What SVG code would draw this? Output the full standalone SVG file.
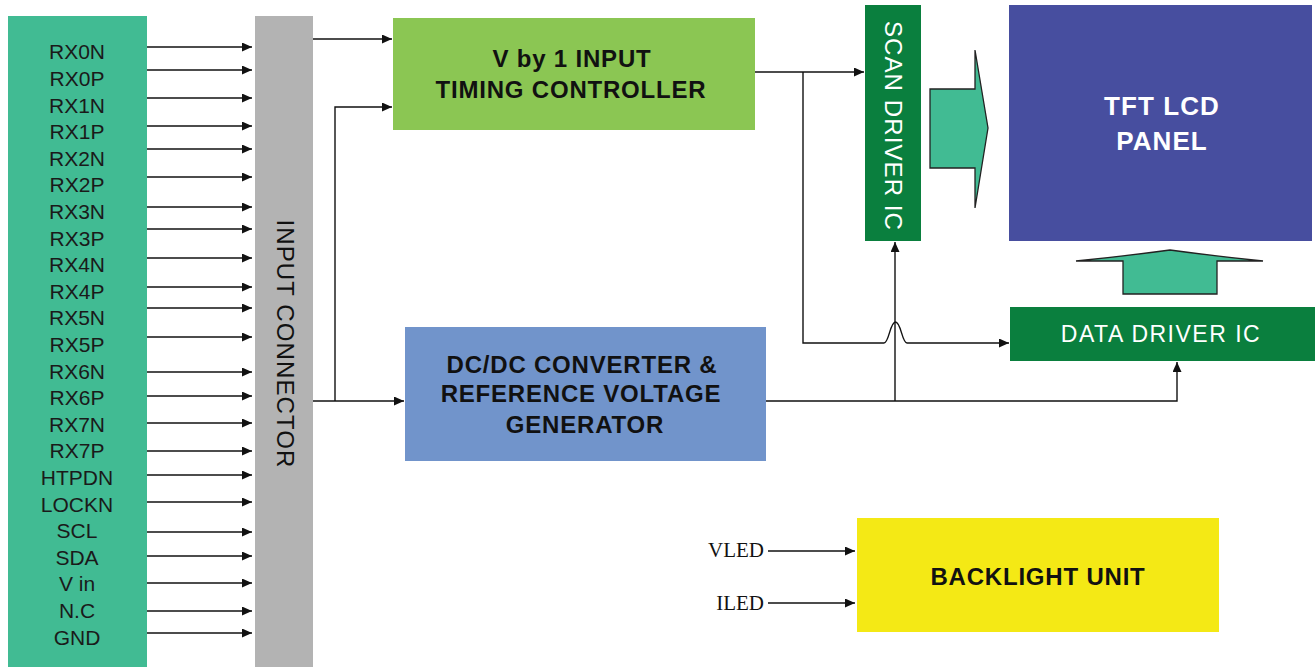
<svg xmlns="http://www.w3.org/2000/svg" width="1316" height="667" viewBox="0 0 1316 667">
<defs>
<marker id="ah" markerUnits="userSpaceOnUse" markerWidth="11" markerHeight="10" refX="10" refY="4.5" orient="auto">
<path d="M0,0 L10,4.5 L0,9 Z" fill="#111"/>
</marker>
<style>
.sig{font-family:"Liberation Sans",Arial,sans-serif;font-size:21px;fill:#1a1a1a;text-anchor:middle}
.lbl{font-family:"Liberation Sans",Arial,sans-serif;font-size:24px;fill:#111;text-anchor:middle;letter-spacing:1.1px}
.bld{font-weight:bold;letter-spacing:0.8px}
.wht{fill:#fff}
.ser{font-family:"Liberation Serif","Times New Roman",serif;font-size:21px;fill:#111;text-anchor:end}
.ln{fill:none;stroke:#111;stroke-width:1.4}
.arr{marker-end:url(#ah)}
.big{fill:#41BB93;stroke:#222;stroke-width:1.3;stroke-linejoin:miter}
</style>
</defs>
<rect width="1316" height="667" fill="#fff"/>

<g id="signals">
<rect x="8" y="16" width="139" height="651" fill="#41BB93"/>
<text class="sig" x="77" y="59.3">RX0N</text>
<text class="sig" x="77" y="85.9">RX0P</text>
<text class="sig" x="77" y="112.5">RX1N</text>
<text class="sig" x="77" y="139.1">RX1P</text>
<text class="sig" x="77" y="165.7">RX2N</text>
<text class="sig" x="77" y="192.3">RX2P</text>
<text class="sig" x="77" y="218.9">RX3N</text>
<text class="sig" x="77" y="245.5">RX3P</text>
<text class="sig" x="77" y="272.1">RX4N</text>
<text class="sig" x="77" y="298.7">RX4P</text>
<text class="sig" x="77" y="325.3">RX5N</text>
<text class="sig" x="77" y="351.9">RX5P</text>
<text class="sig" x="77" y="378.5">RX6N</text>
<text class="sig" x="77" y="405.1">RX6P</text>
<text class="sig" x="77" y="431.7">RX7N</text>
<text class="sig" x="77" y="458.3">RX7P</text>
<text class="sig" x="77" y="484.9">HTPDN</text>
<text class="sig" x="77" y="511.5">LOCKN</text>
<text class="sig" x="77" y="538.1">SCL</text>
<text class="sig" x="77" y="564.7">SDA</text>
<text class="sig" x="77" y="591.3">V in</text>
<text class="sig" x="77" y="617.9">N.C</text>
<text class="sig" x="77" y="644.5">GND</text>
</g>

<g id="input-connector">
<rect x="255" y="16" width="58" height="651" fill="#B3B3B3"/>
<text class="lbl" transform="translate(277,344) rotate(90)">INPUT CONNECTOR</text>
</g>

<g id="timing-controller">
<rect x="393" y="18" width="362" height="112" fill="#8BC653"/>
<text class="lbl bld" x="572" y="67">V by 1 INPUT</text>
<text class="lbl bld" x="571" y="98">TIMING CONTROLLER</text>
</g>

<g id="dcdc">
<rect x="405" y="327" width="361" height="134" fill="#7194CB"/>
<text class="lbl bld" x="582" y="373">DC/DC CONVERTER &amp;</text>
<text class="lbl bld" x="581" y="402">REFERENCE VOLTAGE</text>
<text class="lbl bld" x="585" y="433">GENERATOR</text>
</g>

<g id="scan-driver">
<rect x="865" y="5" width="56" height="236" fill="#0A7F3E"/>
<text class="lbl wht" transform="translate(885,126) rotate(90)">SCAN DRIVER IC</text>
</g>

<g id="panel">
<rect x="1009" y="5" width="303" height="236" fill="#474E9F"/>
<text class="lbl wht" x="1162" y="115" style="font-weight:bold;font-size:26px">TFT LCD</text>
<text class="lbl wht" x="1162" y="150" style="font-weight:bold;font-size:26px">PANEL</text>
</g>

<g id="data-driver">
<rect x="1010" y="307" width="305" height="54" fill="#0A7F3E"/>
<text class="lbl wht" x="1161" y="342" style="font-size:23px;letter-spacing:1.5px">DATA DRIVER IC</text>
</g>

<g id="backlight">
<rect x="857" y="518" width="362" height="114" fill="#F4E915"/>
<text class="lbl bld" x="1038" y="585">BACKLIGHT UNIT</text>
</g>

<g id="flow-arrows">
<path class="big" d="M930,89 H975 V50 L988,128 L975,208 V168 H930 Z"/>
<path class="big" d="M1123,294 V261 H1076 Q1126,256 1170,250 Q1214,256 1263,261 H1217 V294 Z"/>
</g>

<g id="connectors">
<path class="ln arr" d="M147,47 H252"/>
<path class="ln arr" d="M147,70 H252"/>
<path class="ln arr" d="M147,98 H252"/>
<path class="ln arr" d="M147,126 H252"/>
<path class="ln arr" d="M147,149 H252"/>
<path class="ln arr" d="M147,177 H252"/>
<path class="ln arr" d="M147,207 H252"/>
<path class="ln arr" d="M147,229 H252"/>
<path class="ln arr" d="M147,258 H252"/>
<path class="ln arr" d="M147,287 H252"/>
<path class="ln arr" d="M147,308 H252"/>
<path class="ln arr" d="M147,337 H252"/>
<path class="ln arr" d="M147,372 H252"/>
<path class="ln arr" d="M147,396 H252"/>
<path class="ln arr" d="M147,423 H252"/>
<path class="ln arr" d="M147,451 H252"/>
<path class="ln arr" d="M147,475 H252"/>
<path class="ln arr" d="M147,502 H252"/>
<path class="ln arr" d="M147,532 H252"/>
<path class="ln arr" d="M147,556 H252"/>
<path class="ln arr" d="M147,583 H252"/>
<path class="ln arr" d="M147,611 H252"/>
<path class="ln arr" d="M147,633 H252"/>

<path class="ln arr" d="M313,39 H392"/>
<path class="ln arr" d="M313,401 H404"/>
<path class="ln arr" d="M335,401 V107 H392"/>
<path class="ln arr" d="M755,72 H864"/>
<path class="ln arr" d="M803,72 V343 H884 C889,343 890,322 895.5,322 C901,322 902,343 907,343 H1009"/>
<path class="ln arr" d="M766,401 H1177 V362"/>
<path class="ln arr" d="M895,401 V242"/>
<path class="ln arr" d="M768,551 H855"/>
<path class="ln arr" d="M768,603 H855"/>
</g>

<g id="led-labels">
<text class="ser" x="764" y="557">VLED</text>
<text class="ser" x="764" y="610">ILED</text>
</g>
</svg>
